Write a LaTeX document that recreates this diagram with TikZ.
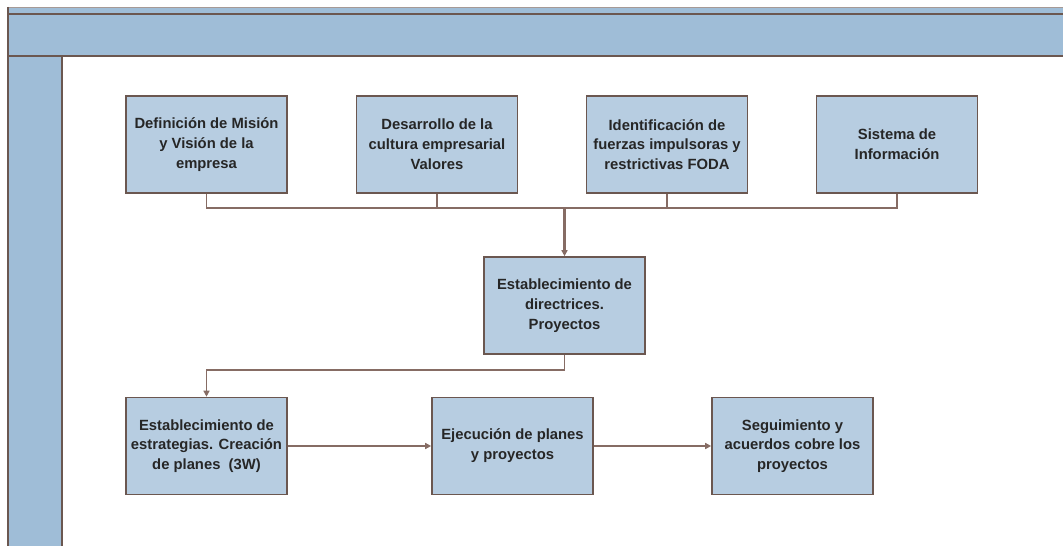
\documentclass[tikz,border=0pt]{standalone}
\usepackage{fontspec}
\setmainfont{Liberation Sans}
\usetikzlibrary{arrows.meta}
\definecolor{bandblue}{HTML}{9FBDD7}
\definecolor{boxblue}{HTML}{B7CDE1}
\definecolor{frame}{HTML}{6B5750}
\definecolor{wire}{HTML}{866C64}
\tikzset{
  stepbox/.style={draw=frame, line width=1.6bp, fill=boxblue, rectangle,
    minimum width=161bp, minimum height=97bp, inner sep=2bp,
    align=center,
    font=\fontsize{14.8bp}{19.8bp}\selectfont\bfseries, text=black!85},
  wire/.style={draw=wire, line width=1.6bp},
  tip/.style={-{Triangle[length=6bp,width=6bp]}},
}
\begin{document}
\begin{tikzpicture}[x=1bp,y=-1bp]
\useasboundingbox (0,0) rectangle (1063,546);
% header band and left column
\fill[bandblue] (8,7) rectangle (1063,56);
\fill[bandblue] (8,56) rectangle (62,546);
\draw[frame!60, line width=0.8bp] (8,7.5) -- (1063,7.5);
\draw[frame, line width=1.2bp] (8,14) -- (1063,14);
\draw[frame, line width=1.2bp] (8,7) -- (8,546);
\draw[frame, line width=1.2bp] (62,56) -- (62,546);
\draw[frame, line width=2.6bp] (8,56) -- (1063,56);

% top row
\node[stepbox] (mision)  at (206.5,144.5) {Definición de Misión\\y Visión de la\\empresa};
\node[stepbox] (cultura) at (437,144.5) {Desarrollo de la\\cultura empresarial\\Valores};
\node[stepbox] (foda)    at (667,144.5) {Identificación de\\fuerzas impulsoras y\\restrictivas FODA};
\node[stepbox] (info)    at (897,144.5) {Sistema de\\Información};

% middle
\node[stepbox] (direct) at (564.5,305.5) {Establecimiento de\\directrices.\\Proyectos};

% bottom row
\node[stepbox] (estrat) at (206.5,446) {Establecimiento de\\estrategias. Creación\\de planes\ \ (3W)};
\node[stepbox] (ejec)   at (512.5,446) {Ejecución de planes\\y proyectos};
\node[stepbox] (seguim) at (792.5,446) {Seguimiento y\\acuerdos cobre los\\proyectos};

\coordinate (join) at (564.5,208);
\coordinate (turn) at (564.5,370);

% merge of the four inputs
\draw[wire] (mision.south) |- (join);
\draw[wire] (info.south) |- (join);
\draw[wire] (cultura.south) -- (cultura.south |- join);
\draw[wire] (foda.south) -- (foda.south |- join);
\draw[wire, line width=2.6bp, tip] (join) -- (direct.north);

% flow to the action row
\draw[wire, tip] (direct.south) -- (turn) -| (estrat.north);
\draw[wire, tip] (estrat.east) -- (ejec.west);
\draw[wire, tip] (ejec.east) -- (seguim.west);
\end{tikzpicture}
\end{document}
